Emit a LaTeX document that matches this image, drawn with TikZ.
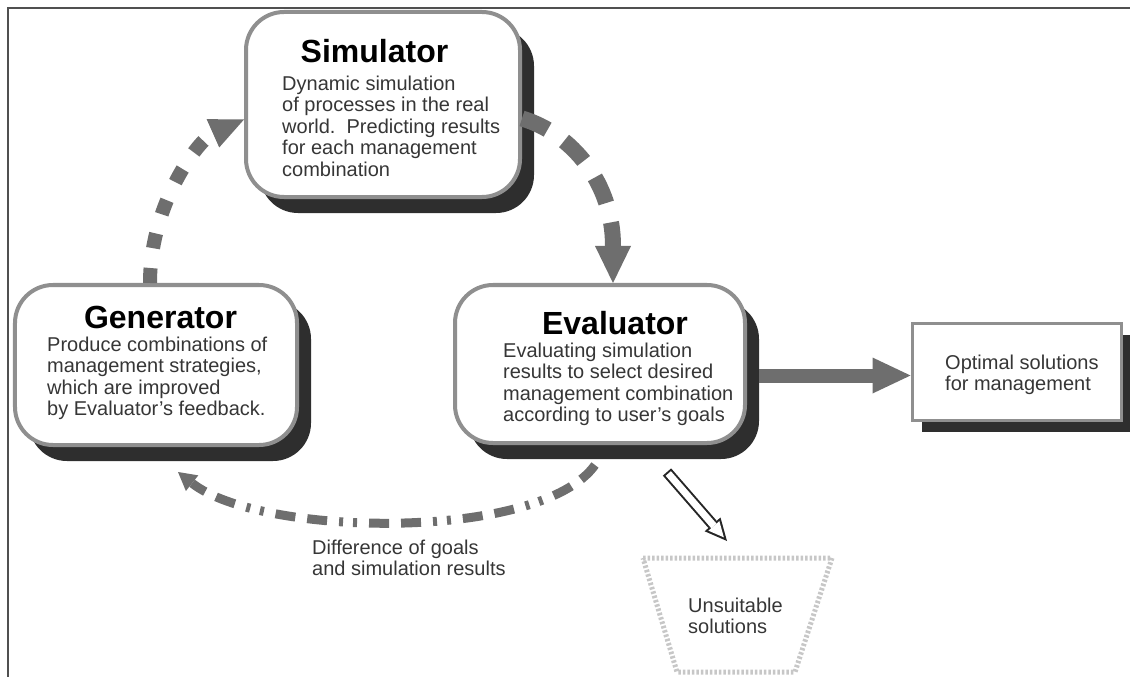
\documentclass[tikz,border=0pt]{standalone}
\usepackage{fontspec}
\setmainfont{Liberation Sans}
\usetikzlibrary{arrows.meta,shadows,calc}
\definecolor{boxline}{HTML}{8F8F8F}
\definecolor{shade}{HTML}{2E2E2E}
\definecolor{flow}{HTML}{6E6E6E}
\definecolor{bodytext}{HTML}{363636}
\definecolor{framecol}{HTML}{505050}
\tikzset{
  stage/.style={draw=boxline, line width=4bp, fill=white, rounded corners=38bp, inner sep=0,
    drop shadow={shadow xshift=14bp, shadow yshift=-16bp, fill=shade, opacity=1}},
  result/.style={draw=boxline, line width=3bp, fill=white, inner sep=0,
    drop shadow={shadow xshift=10bp, shadow yshift=-12bp, fill=shade, opacity=1}},
  title/.style={font=\fontsize{32bp}{36bp}\selectfont\bfseries, anchor=base, inner sep=0},
  body/.style={font=\fontsize{20bp}{21.6bp}\selectfont, text=bodytext, align=left, anchor=north west, inner sep=0},
  squaredash/.style={draw=flow, line width=14bp, dash pattern=on 15bp off 20bp,
    -{Triangle[length=34bp,width=31bp,line width=0pt]}},
  longdash/.style={draw=flow, line width=16bp, dash pattern=on 28bp off 20bp,
    -{Triangle[length=37bp,width=36bp,line width=0pt]}},
  dashdot/.style={draw=flow, line width=9bp,
    dash pattern=on 20bp off 12bp on 20bp off 12bp on 4bp off 10bp on 4bp off 12bp,
    -{Triangle[length=18bp,width=20bp,line width=0pt]}},
  bigarrow/.style={draw=flow, line width=14bp, -{Triangle[length=38bp,width=36bp,line width=0pt]}},
  bucket/.style={draw=black!22, line width=5bp, dash pattern=on 2.5bp off 2bp},
}
\begin{document}
\begin{tikzpicture}[x=1bp,y=-1bp]
\useasboundingbox (0,0) rectangle (1130,677);
\draw[framecol, line width=1.5bp] (8,677) -- (8,8) -- (1130,8);

% boxes
\node[stage, minimum width=274bp, minimum height=185bp] (sim) at (383,104.5) {};
\node[stage, minimum width=282bp, minimum height=160bp] (gen) at (156,365) {};
\node[stage, minimum width=290bp, minimum height=158bp] (eval) at (600,364) {};
\node[result, minimum width=209bp, minimum height=97bp] (opt) at (1016.5,371.5) {};

% texts
\node[title] (simt) at (374.5,63) {Simulator};
\node[body] (simb) at (282,75.4) {Dynamic simulation\\of processes in the real\\world.\ \ Predicting results\\for each management\\combination};
\node[title] (gent) at (160.5,328.5) {Generator};
\node[body] (genb) at (47,336.4) {Produce combinations of\\management strategies,\\which are improved\\by Evaluator's feedback.};
\node[title] (evalt) at (615,334.5) {Evaluator};
\node[body] (evalb) at (503,342.4) {Evaluating simulation\\results to select desired\\management combination\\according to user's goals};
\node[body] (optb) at (945,354.4) {Optimal solutions\\for management};
\node[body] (diff) at (312,539.4) {Difference of goals\\and simulation results};
\node[body] (uns) at (688,597.4) {Unsuitable\\solutions};

% unsuitable bucket
\coordinate (bk1) at (643,558);
\coordinate (bk2) at (832,558);
\coordinate (bk3) at (795,672);
\coordinate (bk4) at (677,672);
\draw[bucket] (bk1) -- (bk2) -- (bk3) -- (bk4) -- cycle;

% connectors
\draw[squaredash] ([xshift=-6bp]gen.north) .. controls +(0,-80) and +(-45,20) .. ([yshift=-15bp]sim.west);
\draw[longdash] ([yshift=-14bp]sim.east) .. controls +(50,15) and +(0,-100) .. ([xshift=13bp]eval.north);
\draw[dashdot] ([xshift=-5bp,yshift=-20bp]eval.south) .. controls +(-55,77) and +(82,65) .. ([xshift=22bp,yshift=-25bp]gen.south);
\coordinate (optin) at ([yshift=-4bp]opt.west);
\draw[bigarrow] ($(eval.east |- optin)+(12,0)$) -- (optin);

% hollow arrow to unsuitable solutions
\coordinate (hs) at ([xshift=67bp,yshift=-27bp]eval.south);
\coordinate (he) at (727,541);
\draw[black!85, line width=11bp, -{Triangle[length=22bp,width=21bp,line width=0pt]}] (hs) -- (he);
\draw[white, line width=7bp, shorten <=2bp, shorten >=4.8bp, -{Triangle[length=15.2bp,width=14.5bp,line width=0pt]}] (hs) -- (he);
\end{tikzpicture}
\end{document}
